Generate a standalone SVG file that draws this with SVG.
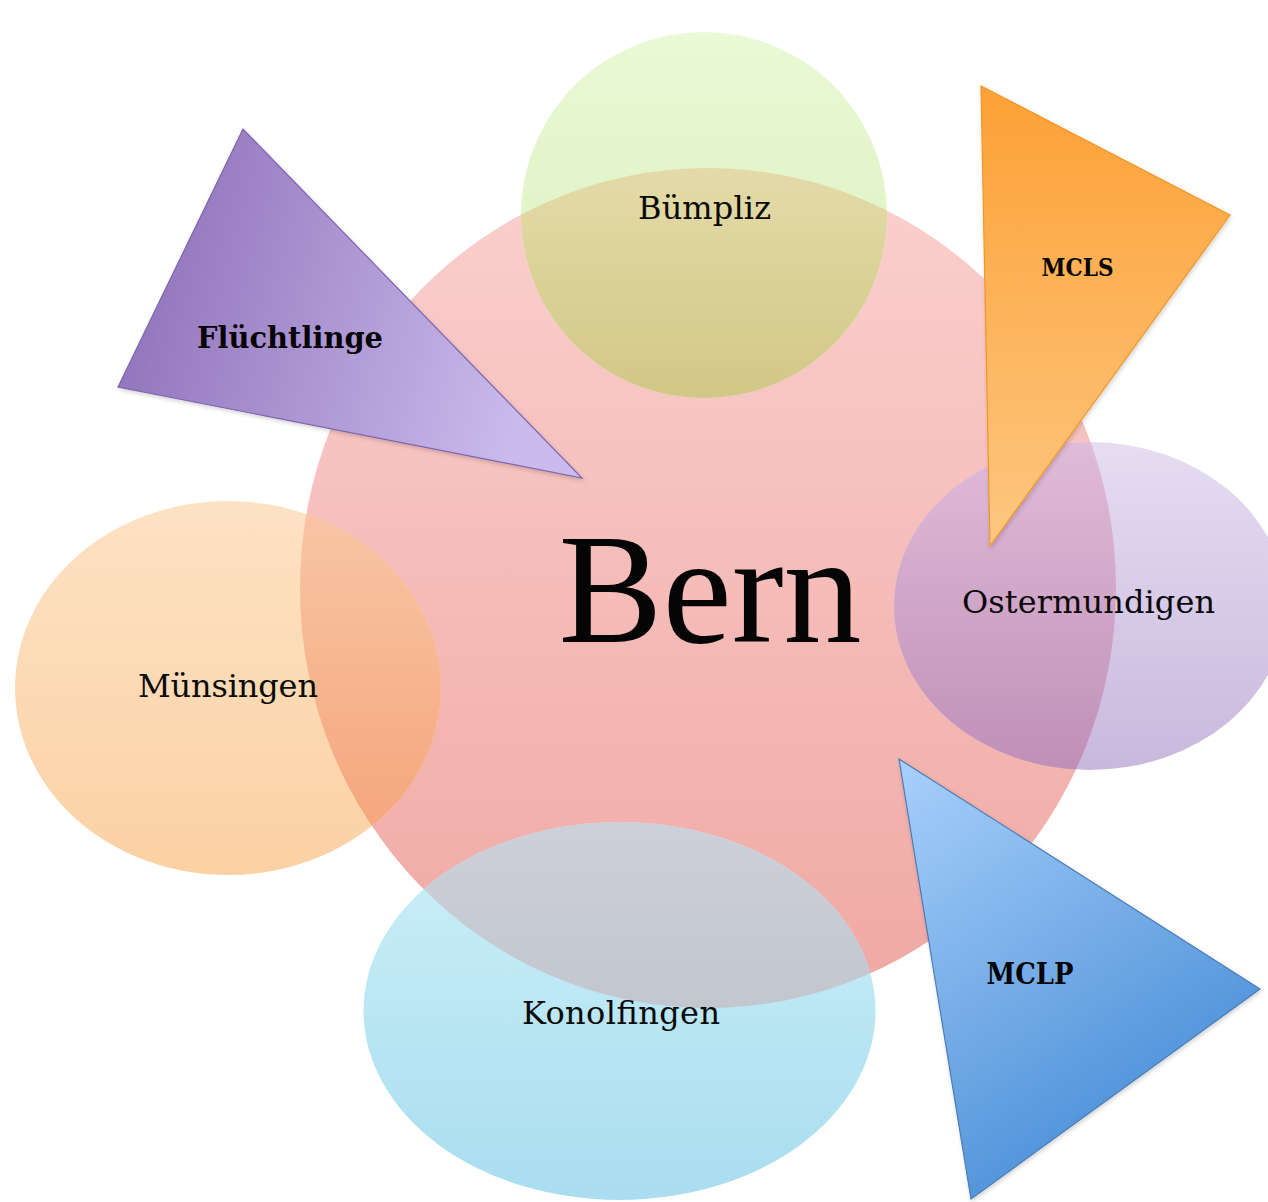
<svg xmlns="http://www.w3.org/2000/svg" width="1268" height="1202" viewBox="0 0 1268 1202">
  <defs>
    <style>
      .lbl { font-family: "DejaVu Serif", "Liberation Serif", serif; font-size: 32px; fill: #0a0a0a; text-anchor: middle; }
      .lbl-b { font-family: "DejaVu Serif", "Liberation Serif", serif; font-weight: bold; fill: #050505; text-anchor: middle; }
      .title { font-family: "Liberation Serif", "DejaVu Serif", serif; font-size: 156px; fill: #050505; text-anchor: middle; }
      .tri { stroke-width: 1.2; stroke-linejoin: miter; filter: url(#shadow); }
    </style>

    <filter id="shadow" x="-10%" y="-10%" width="130%" height="130%">
      <feDropShadow dx="1" dy="2" stdDeviation="2" flood-color="#000" flood-opacity="0.18"/>
    </filter>

    <clipPath id="bernClip">
      <ellipse cx="708" cy="588" rx="408" ry="420"/>
    </clipPath>

    <!-- plain fills -->
    <linearGradient id="gBern" x1="0" y1="0" x2="0" y2="1">
      <stop offset="0" stop-color="#fad0ce"/>
      <stop offset="1" stop-color="#f0a8a3"/>
    </linearGradient>
    <linearGradient id="gGreen" x1="0" y1="0" x2="0" y2="1">
      <stop offset="0" stop-color="#eaf9d6"/>
      <stop offset="1" stop-color="#d9efba"/>
    </linearGradient>
    <linearGradient id="gLilac" x1="0" y1="0" x2="0" y2="1">
      <stop offset="0" stop-color="#e6ddf2"/>
      <stop offset="1" stop-color="#c9b8dd"/>
    </linearGradient>
    <linearGradient id="gPeach" x1="0" y1="0" x2="0" y2="1">
      <stop offset="0" stop-color="#fde2c4"/>
      <stop offset="1" stop-color="#fbd1a4"/>
    </linearGradient>
    <linearGradient id="gCyan" x1="0" y1="0" x2="0" y2="1">
      <stop offset="0" stop-color="#cdf0f8"/>
      <stop offset="1" stop-color="#a9ddef"/>
    </linearGradient>

    <!-- fills where a satellite lies over the Bern disc -->
    <linearGradient id="oGreen" x1="0" y1="0" x2="0" y2="1">
      <stop offset="0" stop-color="#eee5bd"/>
      <stop offset="1" stop-color="#d1c886"/>
    </linearGradient>
    <linearGradient id="oLilac" x1="0" y1="0" x2="0" y2="1">
      <stop offset="0" stop-color="#e0bcd8"/>
      <stop offset="1" stop-color="#c08fb8"/>
    </linearGradient>
    <linearGradient id="oPeach" x1="0" y1="0" x2="0" y2="1">
      <stop offset="0" stop-color="#f8c6a6"/>
      <stop offset="1" stop-color="#f5a276"/>
    </linearGradient>
    <linearGradient id="oCyan" x1="0" y1="0" x2="0" y2="1">
      <stop offset="0" stop-color="#cdd0d8"/>
      <stop offset="1" stop-color="#b6bcc6"/>
    </linearGradient>

    <!-- triangle fills -->
    <linearGradient id="tPurple" x1="0" y1="0" x2="1" y2="0.2">
      <stop offset="0" stop-color="#8a6bb6"/>
      <stop offset="1" stop-color="#cbbbec"/>
    </linearGradient>
    <linearGradient id="tOrange" x1="0" y1="0" x2="0" y2="1">
      <stop offset="0" stop-color="#fda136"/>
      <stop offset="1" stop-color="#fdc781"/>
    </linearGradient>
    <linearGradient id="tBlue" x1="0" y1="0" x2="0.55" y2="1">
      <stop offset="0" stop-color="#a8d0fb"/>
      <stop offset="1" stop-color="#478cd6"/>
    </linearGradient>
  </defs>

  <rect width="1268" height="1202" fill="#ffffff"/>

  <g id="node-bern">
    <ellipse cx="708" cy="588" rx="408" ry="420" fill="url(#gBern)"/>
    <text class="title" x="710" y="642">Bern</text>
  </g>

  <g id="node-buempliz">
    <circle cx="704" cy="215" r="183" fill="url(#gGreen)"/>
    <circle cx="704" cy="215" r="183" fill="url(#oGreen)" clip-path="url(#bernClip)"/>
    <text class="lbl" x="704.5" y="219" textLength="133">Bümpliz</text>
  </g>

  <g id="node-ostermundigen">
    <ellipse cx="1090" cy="606" rx="196" ry="164" fill="url(#gLilac)"/>
    <ellipse cx="1090" cy="606" rx="196" ry="164" fill="url(#oLilac)" clip-path="url(#bernClip)"/>
    <text class="lbl" x="1088.5" y="613" textLength="253">Ostermundigen</text>
  </g>

  <g id="node-muensingen">
    <ellipse cx="228" cy="688" rx="213" ry="187" fill="url(#gPeach)"/>
    <ellipse cx="228" cy="688" rx="213" ry="187" fill="url(#oPeach)" clip-path="url(#bernClip)"/>
    <text class="lbl" x="228" y="697" textLength="180">Münsingen</text>
  </g>

  <g id="node-konolfingen">
    <ellipse cx="619.5" cy="1011" rx="256" ry="189" fill="url(#gCyan)"/>
    <ellipse cx="619.5" cy="1011" rx="256" ry="189" fill="url(#oCyan)" clip-path="url(#bernClip)"/>
    <text class="lbl" x="621" y="1024" textLength="198">Konolfingen</text>
  </g>

  <g id="node-fluechtlinge">
    <polygon class="tri" points="243,129 118,387 582,478" fill="url(#tPurple)" stroke="#7d64ad"/>
    <text class="lbl-b" x="290" y="348" font-size="29" textLength="186" lengthAdjust="spacingAndGlyphs">Flüchtlinge</text>
  </g>

  <g id="node-mcls">
    <polygon class="tri" points="981,86 1230,215 990,546" fill="url(#tOrange)" stroke="#f29628"/>
    <text class="lbl-b" x="1077.5" y="276" font-size="25" textLength="72" lengthAdjust="spacingAndGlyphs">MCLS</text>
  </g>

  <g id="node-mclp">
    <polygon class="tri" points="899,759 1260,989 971,1199" fill="url(#tBlue)" stroke="#4a7cb8"/>
    <text class="lbl-b" x="1030" y="984" font-size="29" textLength="87" lengthAdjust="spacingAndGlyphs">MCLP</text>
  </g>

  <g id="connectors"/>
</svg>
